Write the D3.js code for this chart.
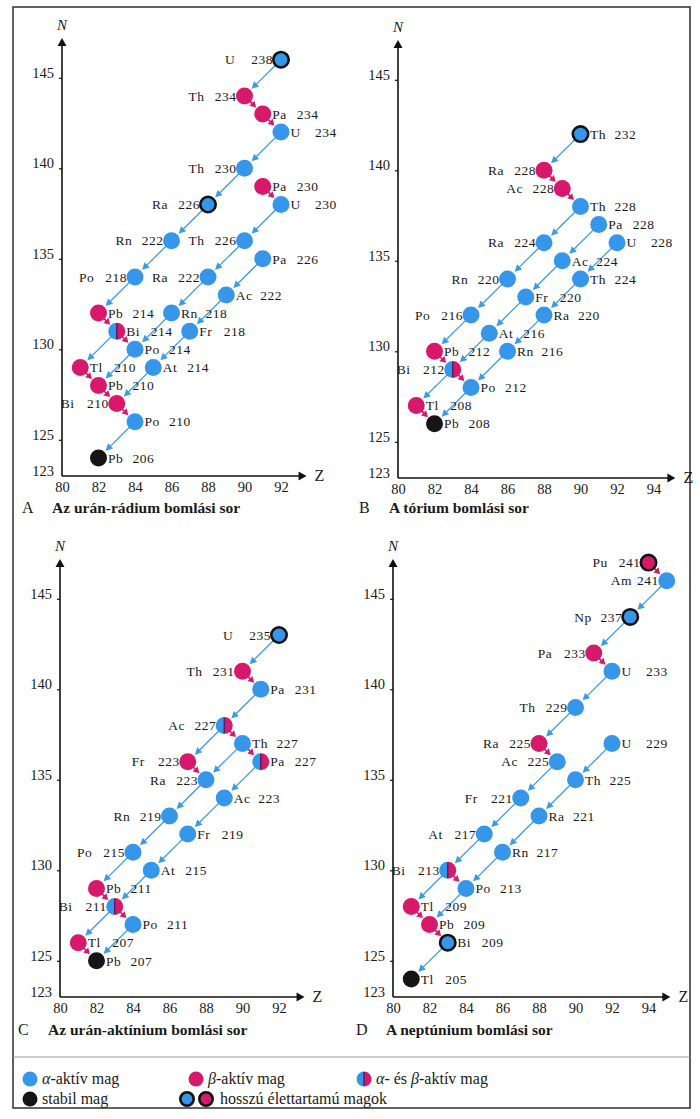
<!DOCTYPE html>
<html>
<head>
<meta charset="utf-8">
<script src="https://cdn.jsdelivr.net/npm/d3@7"></script>
<style>
  body { margin: 0; background: #fff; }
  svg { display: block; }
  text { font-family: "Liberation Serif", "DejaVu Serif", serif; fill: #1a1a1a; }
</style>
</head>
<body>
<svg id="chart" width="700" height="1119"></svg>
<script>
// Nuclides of each series: [element, Z, mass number A, decay kind, long-lived]
// kind: "a" alpha-active, "b" beta-active, "ab" both, "s" stable
const uraniumRadium = [
  ["U",92,238,"a",1], ["Th",90,234,"b"], ["Pa",91,234,"b"], ["U",92,234,"a"],
  ["Th",90,230,"a"], ["Pa",91,230,"b"], ["U",92,230,"a"], ["Ra",88,226,"a",1],
  ["Rn",86,222,"a"], ["Th",90,226,"a"], ["Pa",91,226,"a"], ["Po",84,218,"a"],
  ["Ra",88,222,"a"], ["Ac",89,222,"a"], ["Pb",82,214,"b"], ["Rn",86,218,"a"],
  ["Bi",83,214,"ab"], ["Fr",87,218,"a"], ["Po",84,214,"a"], ["Tl",81,210,"b"],
  ["At",85,214,"a"], ["Pb",82,210,"b"], ["Bi",83,210,"b"], ["Po",84,210,"a"],
  ["Pb",82,206,"s"]
];
const uraniumRadiumAlpha = [
  ["U238","Th234"], ["U234","Th230"], ["Th230","Ra226"], ["Ra226","Rn222"],
  ["Rn222","Po218"], ["Po218","Pb214"], ["U230","Th226"], ["Th226","Ra222"],
  ["Ra222","Rn218"], ["Rn218","Po214"], ["Pa226","Ac222"], ["Ac222","Fr218"],
  ["Fr218","At214"], ["At214","Bi210"], ["Bi214","Tl210"], ["Po214","Pb210"],
  ["Po210","Pb206"]
];
const uraniumRadiumBeta = [
  ["Th234","Pa234"], ["Pa234","U234"], ["Pa230","U230"], ["Pb214","Bi214"],
  ["Bi214","Po214"], ["Tl210","Pb210"], ["Pb210","Bi210"], ["Bi210","Po210"]
];

const thorium = [
  ["Th",90,232,"a",1], ["Ra",88,228,"b"], ["Ac",89,228,"b"], ["Th",90,228,"a"],
  ["Pa",91,228,"a"], ["Ra",88,224,"a"], ["U",92,228,"a"], ["Ac",89,224,"a"],
  ["Rn",86,220,"a"], ["Th",90,224,"a"], ["Fr",87,220,"a"], ["Po",84,216,"a"],
  ["Ra",88,220,"a"], ["At",85,216,"a"], ["Pb",82,212,"b"], ["Rn",86,216,"a"],
  ["Bi",83,212,"ab"], ["Po",84,212,"a"], ["Tl",81,208,"b"], ["Pb",82,208,"s"]
];
const thoriumAlpha = [
  ["Th232","Ra228"], ["Th228","Ra224"], ["Ra224","Rn220"], ["Rn220","Po216"],
  ["Po216","Pb212"], ["Pa228","Ac224"], ["Ac224","Fr220"], ["Fr220","At216"],
  ["At216","Bi212"], ["U228","Th224"], ["Th224","Ra220"], ["Ra220","Rn216"],
  ["Rn216","Po212"], ["Bi212","Tl208"], ["Po212","Pb208"]
];
const thoriumBeta = [
  ["Ra228","Ac228"], ["Ac228","Th228"], ["Pb212","Bi212"], ["Bi212","Po212"],
  ["Tl208","Pb208"]
];

const uraniumActinium = [
  ["U",92,235,"a",1], ["Th",90,231,"b"], ["Pa",91,231,"a"], ["Ac",89,227,"ab"],
  ["Th",90,227,"a"], ["Fr",87,223,"b"], ["Pa",91,227,"ab"], ["Ra",88,223,"a"],
  ["Ac",89,223,"a"], ["Rn",86,219,"a"], ["Fr",87,219,"a"], ["Po",84,215,"a"],
  ["At",85,215,"a"], ["Pb",82,211,"b"], ["Bi",83,211,"ab"], ["Po",84,211,"a"],
  ["Tl",81,207,"b"], ["Pb",82,207,"s"]
];
const uraniumActiniumAlpha = [
  ["U235","Th231"], ["Pa231","Ac227"], ["Ac227","Fr223"], ["Th227","Ra223"],
  ["Ra223","Rn219"], ["Rn219","Po215"], ["Po215","Pb211"], ["Pa227","Ac223"],
  ["Ac223","Fr219"], ["Fr219","At215"], ["At215","Bi211"], ["Bi211","Tl207"],
  ["Po211","Pb207"]
];
const uraniumActiniumBeta = [
  ["Th231","Pa231"], ["Ac227","Th227"], ["Th227","Pa227"], ["Fr223","Ra223"],
  ["Pb211","Bi211"], ["Bi211","Po211"], ["Tl207","Pb207"]
];

const neptunium = [
  ["Pu",94,241,"b",1], ["Am",95,241,"a"], ["Np",93,237,"a",1], ["Pa",91,233,"b"],
  ["U",92,233,"a"], ["Th",90,229,"a"], ["Ra",88,225,"b"], ["Ac",89,225,"a"],
  ["U",92,229,"a"], ["Th",90,225,"a"], ["Fr",87,221,"a"], ["Ra",88,221,"a"],
  ["At",85,217,"a"], ["Rn",86,217,"a"], ["Bi",83,213,"ab"], ["Po",84,213,"a"],
  ["Tl",81,209,"b"], ["Pb",82,209,"b"], ["Bi",83,209,"a",1], ["Tl",81,205,"s"]
];
const neptuniumAlpha = [
  ["Am241","Np237"], ["Np237","Pa233"], ["U233","Th229"], ["Th229","Ra225"],
  ["Ac225","Fr221"], ["Fr221","At217"], ["At217","Bi213"], ["Bi213","Tl209"],
  ["U229","Th225"], ["Th225","Ra221"], ["Ra221","Rn217"], ["Rn217","Po213"],
  ["Po213","Pb209"], ["Bi209","Tl205"]
];
const neptuniumBeta = [
  ["Pu241","Am241"], ["Pa233","U233"], ["Ra225","Ac225"], ["Bi213","Po213"],
  ["Tl209","Pb209"], ["Pb209","Bi209"]
];

// Axis ticks
const nTicks = [123, 125, 130, 135, 140, 145];
const zTicksShort = [80, 82, 84, 86, 88, 90, 92];
const zTicksLong = [80, 82, 84, 86, 88, 90, 92, 94];

// Panel titles
const titles = [
  ["A", "Az urán-rádium bomlási sor"],
  ["B", "A tórium bomlási sor"],
  ["C", "Az urán-aktínium bomlási sor"],
  ["D", "A neptúnium bomlási sor"]
];

// Legend entries
const legendRow1 = ["α-aktív mag", "β-aktív mag", "α- és β-aktív mag"];
const legendRow2 = ["stabil mag", "hosszú élettartamú magok"];

// ---------------------------------------------------------------------------
const BLUE = "#3596ea", RED = "#d8196b", BLACK = "#151515";
const LINE_BLUE = "#3c9be4";
const R = 8.5;      // nuclide marker radius
const KX = 18.25;   // pixels per proton number
const KY = 18.1;    // pixels per neutron number

const svg = d3.select("#chart");

// outer frame and legend separator
svg.append("rect").attr("x", 13).attr("y", 7).attr("width", 677).attr("height", 1101)
  .attr("fill", "none").attr("stroke", "#3a3a3a").attr("stroke-width", 1.6);
svg.append("line").attr("x1", 13).attr("x2", 690).attr("y1", 1057).attr("y2", 1057)
  .attr("stroke", "#9a9a9a").attr("stroke-width", 1);

const panels = [
  { data: uraniumRadium, alpha: uraniumRadiumAlpha, beta: uraniumRadiumBeta,
    left: ["U238","Th234","Th230","Ra226","Rn222","Th226","Po218","Ra222","Bi210"],
    ox: 62, oy: 476, zTicks: zTicksShort, zEnd: 93.4, title: titles[0], tx: 22, ty: 513 },
  { data: thorium, alpha: thoriumAlpha, beta: thoriumBeta,
    left: ["Ra228","Ac228","Ra224","Rn220","Po216","Bi212"],
    ox: 398, oy: 478, zTicks: zTicksLong, zEnd: 95.2, title: titles[1], tx: 359, ty: 513 },
  { data: uraniumActinium, alpha: uraniumActiniumAlpha, beta: uraniumActiniumBeta,
    left: ["U235","Th231","Ac227","Fr223","Ra223","Rn219","Po215","Bi211"],
    ox: 60, oy: 997, zTicks: zTicksShort, zEnd: 93.4, title: titles[2], tx: 18, ty: 1035 },
  { data: neptunium, alpha: neptuniumAlpha, beta: neptuniumBeta,
    left: ["Pu241","Am241","Np237","Pa233","Th229","Ra225","Ac225","Fr221","At217","Bi213"],
    ox: 393, oy: 997, zTicks: zTicksLong, zEnd: 95.2, title: titles[3], tx: 356, ty: 1035 }
];

function halfDisc(g, cx, cy, r) {
  g.append("path").attr("d", `M${cx},${cy - r}A${r},${r} 0 0 0 ${cx},${cy + r}Z`).attr("fill", BLUE);
  g.append("path").attr("d", `M${cx},${cy - r}A${r},${r} 0 0 1 ${cx},${cy + r}Z`).attr("fill", RED);
  g.append("line").attr("x1", cx).attr("x2", cx).attr("y1", cy - r + 0.5).attr("y2", cy + r - 0.5)
    .attr("stroke", "#4b1f66").attr("stroke-width", 1.4);
}

function drawMarker(g, cx, cy, r, kind, longLived) {
  if (kind === "ab") {
    halfDisc(g, cx, cy, r);
  } else {
    g.append("circle").attr("cx", cx).attr("cy", cy).attr("r", longLived ? r - 0.8 : r)
      .attr("fill", kind === "a" ? BLUE : kind === "b" ? RED : BLACK)
      .attr("stroke", longLived ? "#111" : "none")
      .attr("stroke-width", longLived ? 2.6 : 0);
  }
}

panels.forEach(p => {
  const x = d3.scaleLinear().domain([80, 94]).range([p.ox, p.ox + 14 * KX]);
  const y = d3.scaleLinear().domain([123, 145]).range([p.oy, p.oy - 22 * KY]);
  const g = svg.append("g");

  // axes
  const yTop = y(147.2);
  const xEnd = x(p.zEnd);
  g.append("line").attr("x1", p.ox).attr("x2", p.ox).attr("y1", p.oy).attr("y2", yTop + 4)
    .attr("stroke", "#111").attr("stroke-width", 1.6);
  g.append("path").attr("d", `M${p.ox},${yTop}L${p.ox - 4.5},${yTop + 8}L${p.ox + 4.5},${yTop + 8}Z`).attr("fill", "#111");
  g.append("line").attr("x1", p.ox).attr("x2", xEnd - 4).attr("y1", p.oy).attr("y2", p.oy)
    .attr("stroke", "#111").attr("stroke-width", 1.6);
  g.append("path").attr("d", `M${xEnd},${p.oy}L${xEnd - 8},${p.oy - 4.5}L${xEnd - 8},${p.oy + 4.5}Z`).attr("fill", "#111");

  const yAxis = g.append("g").attr("transform", `translate(${p.ox},0)`)
    .call(d3.axisLeft(y).tickValues(nTicks).tickSize(3).tickPadding(4));
  yAxis.select(".domain").remove();
  yAxis.selectAll(".tick line").attr("stroke", "#111").attr("stroke-width", 1.2)
    .attr("opacity", d => d === 123 ? 0 : 1);
  yAxis.selectAll(".tick text").attr("font-family", "Liberation Serif").attr("font-size", 14.5)
    .attr("fill", "#1a1a1a").attr("dy", "-0.05em").attr("dx", -1);

  const xAxis = g.append("g").attr("transform", `translate(0,${p.oy})`)
    .call(d3.axisBottom(x).tickValues(p.zTicks).tickSize(0).tickPadding(6));
  xAxis.select(".domain").remove();
  xAxis.selectAll(".tick text").attr("font-family", "Liberation Serif").attr("font-size", 14.5)
    .attr("fill", "#1a1a1a");

  g.append("text").attr("x", p.ox - 5).attr("y", yTop - 8).attr("font-size", 15)
    .attr("font-style", "italic").text("N");
  g.append("text").attr("x", xEnd + 8).attr("y", p.oy + 5).attr("font-size", 16).text("Z");

  // panel title
  g.append("text").attr("x", p.tx).attr("y", p.ty).attr("font-size", 16).text(p.title[0]);
  g.append("text").attr("x", p.tx + 30).attr("y", p.ty).attr("font-size", 15.5)
    .attr("font-weight", "bold").text(p.title[1]);

  // nuclide positions
  const nodes = new Map();
  p.data.forEach(([el, Z, A, kind, longLived]) => {
    nodes.set(el + A, { el, Z, A, N: A - Z, kind, longLived: !!longLived,
      cx: x(Z), cy: y(A - Z) });
  });

  const heads = [];
  function arrow(pair, color, width, len, half, gap) {
    const s = nodes.get(pair[0]), t = nodes.get(pair[1]);
    const dx = t.cx - s.cx, dy = t.cy - s.cy, d = Math.hypot(dx, dy);
    const ux = dx / d, uy = dy / d;
    const tipX = t.cx - ux * (R + gap), tipY = t.cy - uy * (R + gap);
    const bx = tipX - ux * len, by = tipY - uy * len;
    g.append("line").attr("x1", s.cx).attr("y1", s.cy).attr("x2", bx + ux).attr("y2", by + uy)
      .attr("stroke", color).attr("stroke-width", width);
    heads.push({ d: `M${tipX},${tipY}L${bx - uy * half},${by + ux * half}L${bx + uy * half},${by - ux * half}Z`, color });
  }
  p.alpha.forEach(pr => arrow(pr, LINE_BLUE, 1.3, 7, 3.6, 1.5));
  p.beta.forEach(pr => arrow(pr, RED, 1.6, 6, 3.6, 0.8));

  // markers
  nodes.forEach(n => drawMarker(g, n.cx, n.cy, R, n.kind, n.longLived));

  // arrowheads on top
  heads.forEach(h => g.append("path").attr("d", h.d).attr("fill", h.color));

  // labels
  nodes.forEach((n, id) => {
    const isLeft = p.left.includes(id);
    const lab = g.append("g").attr("font-size", 13.5).attr("letter-spacing", 0.5);
    if (isLeft) {
      lab.append("text").attr("x", n.cx - 56).attr("y", n.cy).attr("dy", "0.35em").text(n.el);
      lab.append("text").attr("x", n.cx - 8).attr("y", n.cy).attr("dy", "0.35em")
        .attr("text-anchor", "end").text(n.A);
    } else {
      lab.append("text").attr("x", n.cx + 9.5).attr("y", n.cy).attr("dy", "0.35em").text(n.el);
      lab.append("text").attr("x", n.cx + 34).attr("y", n.cy).attr("dy", "0.35em").text(n.A);
    }
  });
});

// legend
const lg = svg.append("g").attr("font-size", 16);
const r1 = 1079, r2 = 1099, lr = 7.5;
const row1X = [30, 196, 364];
drawMarker(lg, row1X[0], r1, lr, "a", false);
drawMarker(lg, row1X[1], r1, lr, "b", false);
drawMarker(lg, row1X[2], r1, lr, "ab", false);
legendRow1.forEach((t, i) => {
  const txt = lg.append("text").attr("x", row1X[i] + 12).attr("y", r1 + 5);
  // Greek letters set in italic
  t.split(/([αβ])/).forEach(part => {
    if (!part) return;
    const ts = txt.append("tspan").text(part);
    if (part === "α" || part === "β") ts.attr("font-style", "italic");
  });
});
drawMarker(lg, 30, r2, lr, "s", false);
drawMarker(lg, 187, r2, lr, "a", true);
drawMarker(lg, 206, r2, lr, "b", true);
lg.append("text").attr("x", 42).attr("y", r2 + 5).text(legendRow2[0]);
lg.append("text").attr("x", 220).attr("y", r2 + 5).text(legendRow2[1]);
</script>
</body>
</html>
